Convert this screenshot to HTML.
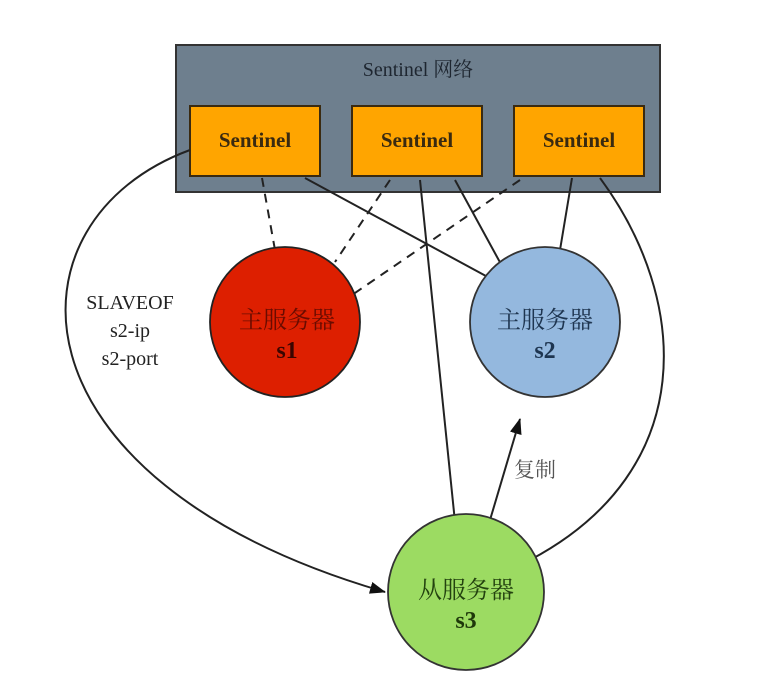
<!DOCTYPE html>
<html><head><meta charset="utf-8"><style>
body{margin:0;background:#fff;}
svg{display:block}
text{font-family:"Liberation Serif","Noto Serif CJK SC",serif;}
</style></head><body>
<svg width="773" height="697" viewBox="0 0 773 697" xmlns="http://www.w3.org/2000/svg">
<defs><marker id="ar" markerWidth="16" markerHeight="12" refX="15" refY="6" orient="auto" markerUnits="userSpaceOnUse"><path d="M0,0 L16,6 L0,12 z" fill="#111"/></marker></defs>
<rect x="176" y="45" width="484" height="147" fill="#6e7f8e" stroke="#333" stroke-width="2"/>
<text x="418" y="76" text-anchor="middle" font-size="20" fill="#1e2630">Sentinel 网络</text>
<g fill="#ffa500" stroke="#3a2a10" stroke-width="2">
<rect x="190" y="106" width="130" height="70"/>
<rect x="352" y="106" width="130" height="70"/>
<rect x="514" y="106" width="130" height="70"/>
</g>
<g font-size="21" font-weight="bold" fill="#3a2a10" text-anchor="middle">
<text x="255" y="147">Sentinel</text><text x="417" y="147">Sentinel</text><text x="579" y="147">Sentinel</text>
</g>
<g stroke="#222" stroke-width="2" fill="none">
<path d="M262,178 L275,250" stroke-dasharray="9,7"/>
<path d="M390,180 L335,262" stroke-dasharray="9,7"/>
<path d="M520,180 L352,295" stroke-dasharray="9,7"/>
<path d="M305,178 L497,282"/>
<path d="M455,180 L502,266"/>
<path d="M420,180 L455,522"/>
<path d="M572,178 L560,250"/>
<path d="M600,178 C690,300 700,470 530,560"/>
<path d="M190,150 C0,220 0,480 385,592" marker-end="url(#ar)"/>
<path d="M490,520 L520,419" marker-end="url(#ar)"/>
</g>
<circle cx="285" cy="322" r="75" fill="#dd1f00" stroke="#222" stroke-width="1.8"/>
<circle cx="545" cy="322" r="75" fill="#94b8de" stroke="#333" stroke-width="1.8"/>
<circle cx="466" cy="592" r="78" fill="#9cdb62" stroke="#333" stroke-width="1.8"/>
<g font-size="24" text-anchor="middle">
<text x="287" y="328" fill="#6a0c00">主服务器</text><text x="287" y="358" fill="#3a0500" font-weight="bold">s1</text>
<text x="545" y="328" fill="#1e3550">主服务器</text><text x="545" y="358" fill="#1e3550" font-weight="bold">s2</text>
<text x="466" y="598" fill="#23420f">从服务器</text><text x="466" y="628" fill="#1e380a" font-weight="bold">s3</text>
</g>
<g font-size="20" fill="#222" text-anchor="middle">
<text x="130" y="309">SLAVEOF</text><text x="130" y="337">s2-ip</text><text x="130" y="365">s2-port</text>
</g>
<text x="535" y="477" font-size="21" fill="#555" text-anchor="middle">复制</text>
</svg>
</body></html>
